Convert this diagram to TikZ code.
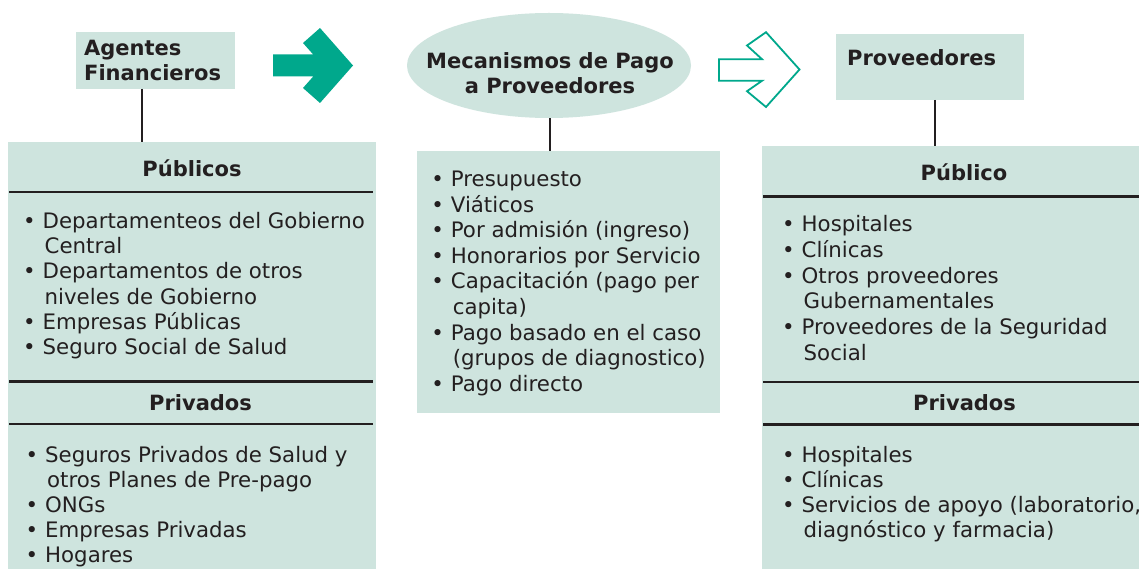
\documentclass[tikz,border=0pt]{standalone}
\usepackage{fontspec}
\setmainfont{DejaVu Sans}
\usetikzlibrary{shapes.geometric}
\definecolor{boxc}{RGB}{206,228,222}
\definecolor{teal}{RGB}{0,168,140}
\definecolor{textc}{RGB}{35,31,32}
\newcommand\itmb{\makebox[19pt][l]{\hspace*{-0.5pt}•}}
\newcommand\contind{\hspace*{21pt}}
\begin{document}
\begin{tikzpicture}[x=1pt,y=-1pt,
  panel/.style={fill=boxc, draw=none, inner sep=0pt, outer sep=0pt, anchor=north west},
  hdr/.style={font={\fontsize{21}{25}\selectfont\bfseries}, text=textc, inner sep=0pt},
  lst/.style={font={\fontsize{21.3}{#1}\selectfont}, text=textc, inner sep=0pt, anchor=base west},
  lst/.default=25.4,
  rulel/.style={line width=2.4pt, draw=textc},
  conn/.style={line width=2pt, draw=textc}]
\fill[white] (0,0) rectangle (1139,569);
\useasboundingbox (0,0) rectangle (1139,569);

% top boxes
\node[panel, minimum width=159pt, minimum height=57pt] (agentes) at (76,32) {};
\node[hdr, anchor=base west] (agtxt) at (84,56) {\begin{tabular}[t]{@{}l@{}}Agentes\\Financieros\end{tabular}};

\node[ellipse, fill=boxc, inner sep=0pt, minimum width=284pt, minimum height=105pt] (mec) at (549,65.5) {};
\node[hdr, anchor=base] (mectxt) at (550,68.5) {\begin{tabular}[t]{@{}c@{}}Mecanismos de Pago\\a Proveedores\end{tabular}};

\node[panel, minimum width=188pt, minimum height=66pt] (prov) at (836,34) {};
\node[hdr, anchor=base west] (provtxt) at (847,66) {Proveedores};

% arrows
\fill[teal] (273,54.5) -- (313.2,54.5) -- (303,43) -- (320,28) -- (353,65.5) -- (320,103) -- (303,88) -- (313.2,76.5) -- (273,76.5) -- cycle;
\draw[teal, line width=1.8pt, line join=miter] (718.9,59.2) -- (762,59.2) -- (747,45.5) -- (766,32.2) -- (799.5,69.5) -- (766,107) -- (747,91.2) -- (762,80.8) -- (718.9,80.8) -- cycle;

% big panels
\node[panel, minimum width=368pt, minimum height=427pt] (agpub) at (8,142) {};
\node[panel, minimum width=303pt, minimum height=262pt] (mid) at (417,151) {};
\node[panel, minimum width=377pt, minimum height=423pt] (provpub) at (762,146) {};

% connectors
\draw[conn] ([xshift=-13.5pt]agentes.south) -- ([xshift=-13.5pt]agentes.south |- agpub.north);
\draw[conn] ([xshift=1pt]mec.south) -- ([xshift=1pt]mec.south |- mid.north);
\draw[conn] ([xshift=5pt]prov.south) -- ([xshift=5pt]prov.south |- provpub.north);

% rules
\draw[rulel] (9,192) -- (373,192);
\draw[rulel] (9,381.5) -- (373,381.5);
\draw[rulel] (9,424) -- (373,424);
\draw[rulel] (763,196.5) -- (1139,196.5);
\draw[rulel] (763,382) -- (1139,382);
\draw[rulel] (763,424.5) -- (1139,424.5);

% headers
\node[hdr, anchor=base] (lpubh) at (192,176.5) {Públicos};
\node[hdr, anchor=base] (lprivh) at (200.5,410) {Privados};
\node[hdr, anchor=base] (rpubh) at (964,181) {Público};
\node[hdr, anchor=base] (rprivh) at (964.5,410.5) {Privados};

% lists
\node[lst=25.2] (lpubl) at (23.5,228.5) {\begin{tabular}[t]{@{}l@{}}
\itmb Departamenteos del Gobierno\\
\contind Central\\
\itmb Departamentos de otros\\
\contind niveles de Gobierno\\
\itmb Empresas Públicas\\
\itmb Seguro Social de Salud
\end{tabular}};

\node[lst=25] (lprivl) at (26,462) {\begin{tabular}[t]{@{}l@{}}
\itmb Seguros Privados de Salud y\\
\contind otros Planes de Pre-pago\\
\itmb ONGs\\
\itmb Empresas Privadas\\
\itmb Hogares
\end{tabular}};

\node[lst=25.6] (midl) at (431.7,186.5) {\begin{tabular}[t]{@{}l@{}}
\itmb Presupuesto\\
\itmb Viáticos\\
\itmb Por admisión (ingreso)\\
\itmb Honorarios por Servicio\\
\itmb Capacitación (pago per\\
\contind capita)\\
\itmb Pago basado en el caso\\
\contind (grupos de diagnostico)\\
\itmb Pago directo
\end{tabular}};

\node[lst=25.6] (rpubl) at (782.5,232) {\begin{tabular}[t]{@{}l@{}}
\itmb Hospitales\\
\itmb Clínicas\\
\itmb Otros proveedores\\
\contind Gubernamentales\\
\itmb Proveedores de la Seguridad\\
\contind Social
\end{tabular}};

\node[lst=25] (rprivl) at (782.5,462) {\begin{tabular}[t]{@{}l@{}}
\itmb Hospitales\\
\itmb Clínicas\\
\itmb Servicios de apoyo (laboratorio,\\
\contind diagnóstico y farmacia)
\end{tabular}};
\end{tikzpicture}
\end{document}
